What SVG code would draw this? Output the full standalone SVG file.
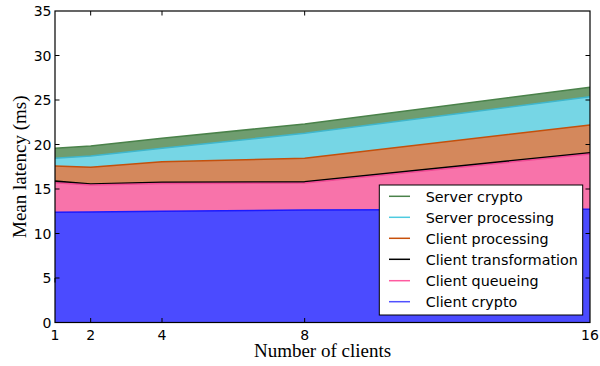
<svg xmlns="http://www.w3.org/2000/svg" width="600" height="366" viewBox="0 0 600 366">
<style>
.tick{stroke:#000;stroke-width:1;fill:none}
.tl{font-family:"DejaVu Sans",sans-serif;font-size:14px;fill:#000}
.ax{font-family:"Liberation Serif",serif;font-size:19px;fill:#000}
.lg{font-family:"DejaVu Sans",sans-serif;font-size:14.3px;fill:#000}
.edge{fill:none;stroke-width:1.5;stroke-linejoin:round}
</style>
<rect width="600" height="366" fill="#fff"/>
<g id="areas">
<polygon points="55,148.3 90.67,146 162,138.3 304.67,124 590,87.3 590,322.5 55,322.5" fill="#6f9d6f"/>
<polygon points="55,158.3 90.67,156 162,148.3 304.67,133.3 590,96.7 590,322.5 55,322.5" fill="#76d6e5"/>
<polygon points="55,166 90.67,167.3 162,161.7 304.67,158.3 590,125 590,322.5 55,322.5" fill="#d4885c"/>
<polygon points="55,181 90.67,184 162,182.3 304.67,181.7 590,152.7 590,322.5 55,322.5" fill="#222"/>
<polygon points="55,182.7 90.67,185 162,183.5 304.67,183 590,154 590,322.5 55,322.5" fill="#f873aa"/>
<polygon points="55,212.3 90.67,212 162,211.3 304.67,210 590,209.3 590,322.5 55,322.5" fill="#4b4bff"/>
</g>
<g id="connectors">
<polyline class="edge" points="55,148.3 90.67,146 162,138.3 304.67,124 590,87.3" stroke="#4a824a"/>
<polyline class="edge" points="55,158.3 90.67,156 162,148.3 304.67,133.3 590,96.7" stroke="#3fb6cc"/>
<polyline class="edge" points="55,166 90.67,167.3 162,161.7 304.67,158.3 590,125" stroke="#c4500c"/>
<polyline class="edge" points="55,181 90.67,184 162,182.3 304.67,181.7 590,152.7" stroke="#000"/>
<polyline class="edge" points="55,182.7 90.67,185 162,183.5 304.67,183 590,154" stroke="#f04b95"/>
<polyline class="edge" points="55,212.3 90.67,212 162,211.3 304.67,210 590,209.3" stroke="#1a1aff"/>
</g>
<g id="axes">
<rect x="55" y="11" width="535" height="311.5" fill="none" stroke="#000" stroke-width="1.2"/>
<path class="tick" d="M90.67,322.5v-4.5M162,322.5v-4.5M304.67,322.5v-4.5M90.67,11v4.5M162,11v4.5M304.67,11v4.5
M55,278v4.5 M55,278h4.5M55,233.5h4.5M55,189h4.5M55,144.5h4.5M55,100h4.5M55,55.5h4.5
M590,278h-4.5M590,233.5h-4.5M590,189h-4.5M590,144.5h-4.5M590,100h-4.5M590,55.5h-4.5"/>
<g class="tl" text-anchor="middle">
<text x="55" y="339.5">1</text>
<text x="90.67" y="339.5">2</text>
<text x="162" y="339.5">4</text>
<text x="304.67" y="339.5">8</text>
<text x="590" y="339.5">16</text>
</g>
<g class="tl" text-anchor="end">
<text x="51.5" y="327.6">0</text>
<text x="51.5" y="283.1">5</text>
<text x="51.5" y="238.6">10</text>
<text x="51.5" y="194.1">15</text>
<text x="51.5" y="149.6">20</text>
<text x="51.5" y="105.1">25</text>
<text x="51.5" y="60.6">30</text>
<text x="51.5" y="16.1">35</text>
</g>
<text class="ax" x="322.5" y="356.5" text-anchor="middle">Number of clients</text>
<text class="ax" transform="translate(25.5,166.75) rotate(-90)" text-anchor="middle">Mean latency (ms)</text>
</g>
<g id="legend">
<rect x="379.3" y="185" width="203.4" height="130" fill="#fff" stroke="#000" stroke-width="1"/>
<g stroke-width="1.5">
<line x1="389" y1="196.3" x2="410" y2="196.3" stroke="#4a824a"/>
<line x1="389" y1="217.3" x2="410" y2="217.3" stroke="#4ecbe0"/>
<line x1="389" y1="238.3" x2="410" y2="238.3" stroke="#c8500a"/>
<line x1="389" y1="259.3" x2="410" y2="259.3" stroke="#000"/>
<line x1="389" y1="280.7" x2="410" y2="280.7" stroke="#ff5aa0"/>
<line x1="389" y1="301.7" x2="410" y2="301.7" stroke="#5050ff"/>
</g>
<text class="lg" x="425.7" y="201.6">Server crypto</text>
<text class="lg" x="425.7" y="222.6">Server processing</text>
<text class="lg" x="425.7" y="243.6">Client processing</text>
<text class="lg" x="425.7" y="264.6">Client transformation</text>
<text class="lg" x="425.7" y="286">Client queueing</text>
<text class="lg" x="425.7" y="307">Client crypto</text>
</g>
</svg>
